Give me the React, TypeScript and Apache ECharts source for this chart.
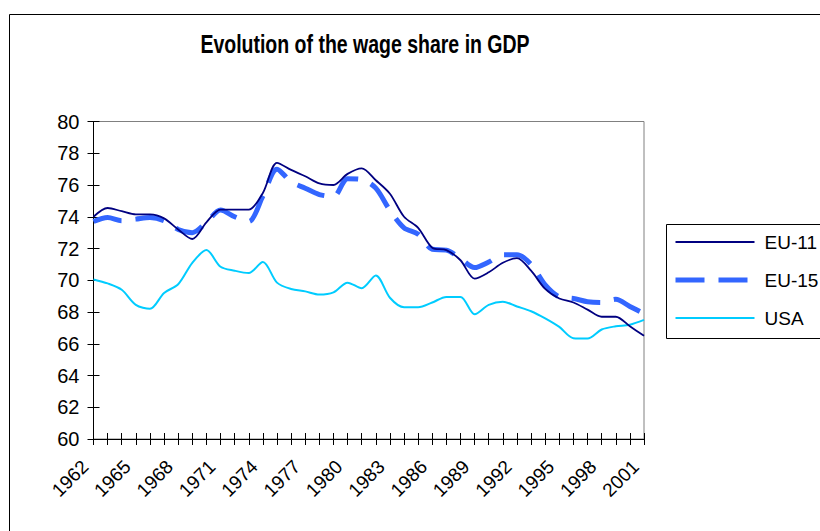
import React, { useEffect, useRef } from "react";
import * as echarts from "echarts";

const years = [
  "1962", "1963", "1964", "1965", "1966", "1967", "1968", "1969", "1970", "1971",
  "1972", "1973", "1974", "1975", "1976", "1977", "1978", "1979", "1980", "1981",
  "1982", "1983", "1984", "1985", "1986", "1987", "1988", "1989", "1990", "1991",
  "1992", "1993", "1994", "1995", "1996", "1997", "1998", "1999", "2000", "2001",
];

const eu11 = [
  74.0, 74.55, 74.35, 74.15, 74.15, 73.9, 73.2, 72.6, 73.65, 74.45,
  74.45, 74.45, 75.5, 77.4, 76.95, 76.55, 76.1, 76.0, 76.7, 77.05,
  76.3, 75.45, 74.0, 73.3, 72.05, 71.9, 71.26, 70.1, 70.5, 71.1,
  71.4, 70.6, 69.45, 68.85, 68.6, 68.15, 67.7, 67.7, 67.1, 66.5,
];

const eu15 = [
  73.7, 73.95, 73.75, 73.85, 73.95, 73.75, 73.2, 73.0, 73.65, 74.43,
  74.0, 73.7, 75.3, 77.0, 76.2, 75.8, 75.4, 75.27, 76.4, 76.35,
  75.8, 74.4, 73.3, 72.9, 71.95, 71.9, 71.36, 70.8, 71.15, 71.6,
  71.6, 71.0, 69.7, 68.95, 68.85, 68.65, 68.6, 68.8, 68.35, 67.9,
];

const usa = [
  70.05, 69.8, 69.4, 68.45, 68.2, 69.2, 69.75, 71.1, 71.9, 70.85,
  70.6, 70.45, 71.15, 69.85, 69.45, 69.3, 69.1, 69.24, 69.85, 69.5,
  70.3, 68.9, 68.3, 68.3, 68.6, 68.95, 68.95, 67.86, 68.45, 68.65,
  68.35, 68.05, 67.6, 67.06, 66.35, 66.33, 66.9, 67.1, 67.2, 67.5,
];

const seriesNames = ["EU-11", "EU-15", "USA"];
const titleText = "Evolution of the wage share in GDP";

export default function App() {
  const ref = useRef<HTMLDivElement>(null);

  useEffect(() => {
    document.body.style.margin = "0";
    if (!ref.current) return;
    const chart = echarts.init(ref.current, undefined, { renderer: "svg" });
    const font = "'Liberation Sans', Arial, sans-serif";
    chart.setOption({
      animation: false,
      backgroundColor: "#ffffff",
      grid: {
        left: 93.5,
        right: 176,
        top: 121.5,
        bottom: 92,
        show: true,
        borderColor: "#808080",
        borderWidth: 1,
        backgroundColor: "transparent",
        containLabel: false,
      },
      legend: {
        orient: "vertical",
        left: 673,
        top: 231,
        padding: 0,
        itemWidth: 79,
        itemHeight: 12,
        itemGap: 16,
        itemStyle: { opacity: 0 },
        lineStyle: { width: "inherit" },
        textStyle: {
          fontFamily: font,
          fontSize: 19,
          color: "#000000",
          padding: [0, 0, 0, 5],
          lineHeight: 22,
        },
        data: seriesNames,
      },
      xAxis: [
        {
          type: "category",
          data: years,
          boundaryGap: false,
          position: "bottom",
          axisLine: { show: true, lineStyle: { color: "#000000", width: 1 } },
          axisTick: { show: true, interval: 0, length: 6, lineStyle: { color: "#000000" } },
          axisLabel: {
            interval: 2,
            rotate: 45,
            margin: 16,
            padding: [0, 12, 0, 0],
            fontFamily: font,
            fontSize: 19,
            color: "#000000",
          },
          splitLine: { show: false },
        },
        {
          type: "category",
          data: years,
          boundaryGap: false,
          position: "bottom",
          axisLine: { show: false },
          axisTick: { show: true, inside: true, interval: 0, length: 6, lineStyle: { color: "#000000" } },
          axisLabel: { show: false },
          splitLine: { show: false },
        },
      ],
      yAxis: [
        {
          type: "value",
          min: 60,
          max: 80,
          interval: 2,
          position: "left",
          axisLine: { show: true, lineStyle: { color: "#000000", width: 1 } },
          axisTick: { show: true, length: 6, lineStyle: { color: "#000000" } },
          axisLabel: {
            margin: 14,
            fontFamily: font,
            fontSize: 20,
            color: "#000000",
          },
          splitLine: { show: false },
        },
        {
          type: "value",
          min: 60,
          max: 80,
          interval: 2,
          position: "left",
          axisLine: { show: false },
          axisTick: { show: true, inside: true, length: 6, lineStyle: { color: "#000000" } },
          axisLabel: { show: false },
          splitLine: { show: false },
        },
      ],
      graphic: [
        {
          type: "rect",
          shape: { x: 9.5, y: 14.5, width: 900, height: 600 },
          style: { fill: "none", stroke: "#000000", lineWidth: 1 },
          silent: true,
          z: -10,
        },
        {
          type: "rect",
          shape: { x: 666.5, y: 224.5, width: 300, height: 114 },
          style: { fill: "none", stroke: "#000000", lineWidth: 1 },
          silent: true,
          z: -10,
        },
        {
          type: "text",
          x: 365,
          y: 45,
          scaleX: 0.78,
          style: {
            text: titleText,
            font: "bold 25px 'Liberation Sans', Arial, sans-serif",
            fill: "#000000",
            align: "center",
            verticalAlign: "middle",
          },
          silent: true,
        },
      ],
      series: [
        {
          name: seriesNames[0],
          type: "line",
          data: eu11,
          smooth: 0.3,
          showSymbol: false,
          symbol: "none",
          lineStyle: { color: "#000080", width: 1.8 },
          itemStyle: { color: "#000080" },
          z: 3,
        },
        {
          name: seriesNames[1],
          type: "line",
          data: eu15,
          smooth: 0.3,
          showSymbol: false,
          symbol: "none",
          lineStyle: { color: "#3366FF", width: 5, type: [29, 14] },
          itemStyle: { color: "#3366FF" },
          z: 2,
        },
        {
          name: seriesNames[2],
          type: "line",
          data: usa,
          smooth: 0.3,
          showSymbol: false,
          symbol: "none",
          lineStyle: { color: "#00CCFF", width: 2 },
          itemStyle: { color: "#00CCFF" },
          z: 2,
        },
      ],
    });
    return () => chart.dispose();
  }, []);

  return <div ref={ref} style={{ width: 820, height: 531 }} />;
}
